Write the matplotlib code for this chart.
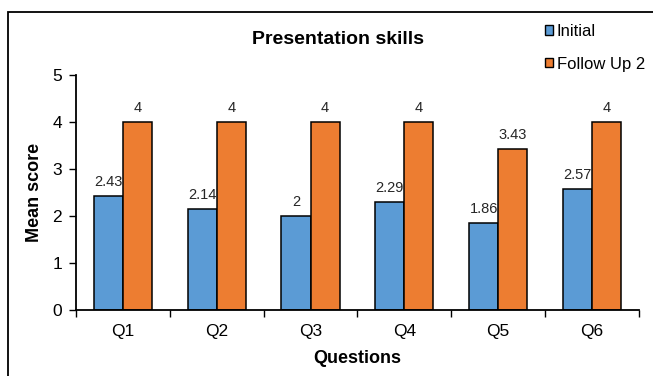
import matplotlib
matplotlib.use("Agg")
import matplotlib.pyplot as plt
from matplotlib.patches import Patch, Rectangle
import numpy as np

plt.rcParams['font.family'] = ['Liberation Sans', 'DejaVu Sans']

questions = ['Q1', 'Q2', 'Q3', 'Q4', 'Q5', 'Q6']
initial = [2.43, 2.14, 2, 2.29, 1.86, 2.57]
follow_up = [4, 4, 4, 4, 3.43, 4]

blue = '#5B9BD5'
orange = '#ED7D31'

fig = plt.figure(figsize=(6.53, 3.76), dpi=100)
ax = fig.add_axes([0.1164, 0.1755, 0.862, 0.625])

x = np.arange(len(questions))
w = 0.31
b1 = ax.bar(x - w / 2, initial, w, color=blue, edgecolor='black', linewidth=1.1)
b2 = ax.bar(x + w / 2, follow_up, w, color=orange, edgecolor='black', linewidth=1.1)

for bars, vals in ((b1, initial), (b2, follow_up)):
    for bar, v in zip(bars, vals):
        ax.annotate(f'{v:g}', (bar.get_x() + bar.get_width() / 2, v),
                    xytext=(0, 5), textcoords='offset points',
                    ha='center', va='bottom', fontsize=10.5, color='#262626')

ax.set_xlim(-0.5, len(questions) - 0.5)
ax.set_ylim(0, 5)
ax.set_yticks(range(6))
ax.set_xticks(x)
ax.set_xticklabels(questions, fontsize=12.5)
ax.set_xticks(np.arange(-0.5, len(questions)), minor=True)
ax.tick_params(axis='x', which='major', length=0, pad=10)
ax.tick_params(axis='x', which='minor', length=5, width=1, direction='out')
ax.tick_params(axis='y', length=5, width=1, labelsize=12.5, pad=5)

for s in ('top', 'right'):
    ax.spines[s].set_visible(False)
for s in ('left', 'bottom'):
    ax.spines[s].set_linewidth(1.3)

ax.set_xlabel('Questions', fontsize=13, fontweight='bold', labelpad=8)
ax.set_ylabel('Mean score', fontsize=13, fontweight='bold', labelpad=7)

fig.text(0.518, 0.894, 'Presentation skills', ha='center', va='center',
         fontsize=14, fontweight='bold')

handles = [Patch(facecolor=blue, edgecolor='black'),
           Patch(facecolor=orange, edgecolor='black')]
fig.legend(handles, ['Initial', 'Follow Up 2'], loc='upper left',
           bbox_to_anchor=(545 / 653, 1 - 24 / 376), frameon=False,
           borderpad=0, borderaxespad=0, fontsize=12, handlelength=0.5,
           handleheight=0.5, handletextpad=0.2, labelspacing=1.05)

# chart-area border
fig.patches.append(Rectangle((8 / 653, -0.1), 1.2, 1.1 - 12 / 376,
                             transform=fig.transFigure, fill=False,
                             edgecolor='black', linewidth=1.3))

fig.savefig('out.png', dpi=100)
